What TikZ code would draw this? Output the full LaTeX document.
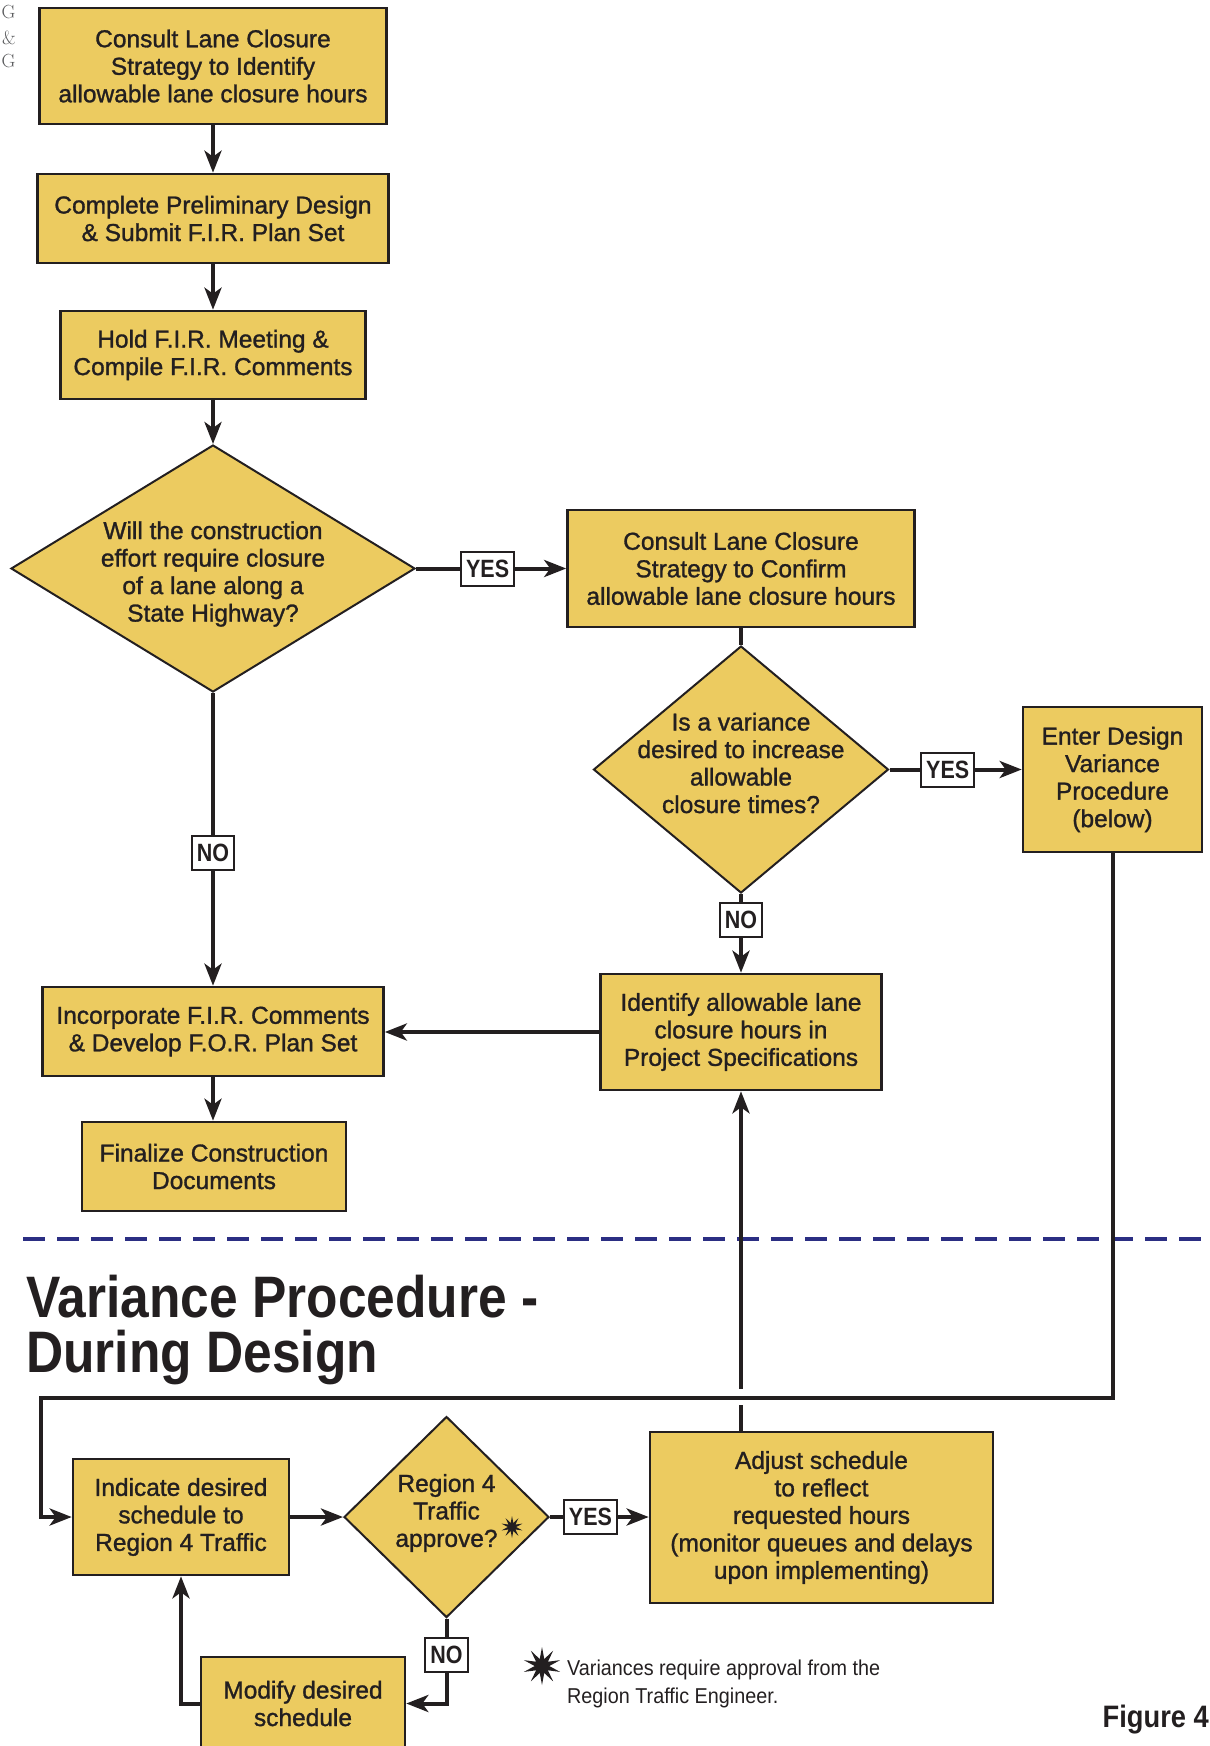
\documentclass[tikz,border=0pt]{standalone}
\usepackage{fontspec}
\usetikzlibrary{arrows.meta,shapes.geometric,calc}
\newfontfamily\lsans{Liberation Sans}[FakeBold=1.2]
\newfontfamily\lsanscond{Liberation Sans}[FakeStretch=0.86]
\newfontfamily\lsanstitle{Liberation Sans}[FakeStretch=0.88]
\newfontfamily\lsansnote{Liberation Sans}[FakeStretch=0.92]
\definecolor{boxyellow}{HTML}{ECCB60}
\definecolor{ink}{HTML}{231F20}
\definecolor{dashblue}{HTML}{2B2E83}
\definecolor{markgray}{HTML}{58595B}

\tikzset{
  stepbox/.style={rectangle, draw=ink, line width=2.6pt, fill=boxyellow, inner sep=0pt,
    align=center, text=ink, font=\lsans\fontsize{24.5}{27.5}\selectfont},
  decision/.style={diamond, draw=ink, line width=2pt, fill=boxyellow, inner sep=0pt},
  dtext/.style={align=center, text=ink, inner sep=0pt, font=\lsans\fontsize{24.5}{27.5}\selectfont},
  answer/.style={rectangle, draw=ink, line width=2pt, fill=white, text=ink,
    font=\lsanscond\bfseries\fontsize{25}{25}\selectfont, inner xsep=5pt, inner ysep=0pt,
    minimum height=34pt},
  conn/.style={draw=ink, line width=4pt},
  flow/.style={conn, -{Stealth[length=22pt,width=17pt,inset=6pt]}},
  burst/.style={star, star points=10, star point ratio=2.6, fill=ink, inner sep=0pt},
  margintag/.style={text=markgray, inner sep=0pt, font=\fontsize{19}{19}\selectfont},
}

\begin{document}
\begin{tikzpicture}[x=1pt,y=-1pt]
\useasboundingbox (0,0) rectangle (1210,1746);

% margin mark
\node[margintag] (mk1) at (8.5,12) {G};
\node[margintag] (mk2) at (9,38) {\&};
\node[margintag] (mk3) at (8.5,61) {G};

% main design flow
\node[stepbox, minimum width=347pt, minimum height=116pt] (b1) at (213,66)
  {Consult Lane Closure\\Strategy to Identify\\allowable lane closure hours};
\node[stepbox, minimum width=351pt, minimum height=89pt] (b2) at (213,218.5)
  {Complete Preliminary Design\\\& Submit F.I.R. Plan Set};
\node[stepbox, minimum width=305pt, minimum height=88pt] (b3) at (213,355)
  {Hold F.I.R. Meeting \&\\Compile F.I.R. Comments};
\node[decision, minimum width=404pt, minimum height=247pt] (d1) at (213,568.5) {};
\node[dtext] (d1t) at (213,574)
  {Will the construction\\effort require closure\\of a lane along a\\State Highway?};
\node[stepbox, minimum width=347pt, minimum height=117pt] (b4) at (741,568.5)
  {Consult Lane Closure\\Strategy to Confirm\\allowable lane closure hours};
\node[decision, minimum width=295pt, minimum height=247pt] (d2) at (741,769.5) {};
\node[dtext] (d2t) at (741,763)
  {Is a variance\\desired to increase\\allowable\\closure times?};
\node[stepbox, minimum width=179pt, minimum height=145pt] (b5) at (1112.5,779.5)
  {Enter Design\\Variance\\Procedure\\(below)};
\node[stepbox, minimum width=281pt, minimum height=116pt] (b6) at (741,1032)
  {Identify allowable lane\\closure hours in\\Project Specifications};
\node[stepbox, minimum width=341pt, minimum height=89pt] (b7) at (213,1031.5)
  {Incorporate F.I.R. Comments\\\& Develop F.O.R. Plan Set};
\node[stepbox, minimum width=264pt, minimum height=89pt] (b8) at (214,1166.5)
  {Finalize Construction\\Documents};

\draw[flow] (b1) -- (b2);
\draw[flow] (b2) -- (b3);
\draw[flow] (b3) -- (d1);
\draw[flow] (d1.east) -- node[answer, pos=0.477] {YES} (b4.west);
\draw[conn] (b4.south) -- (d2.north);
\draw[flow] (d2.east) -- node[answer, pos=0.44] {YES} (d2.east -| b5.west);
\draw[flow] (d2.south) -- node[answer, pos=0.333] {NO} (b6.north);
\draw[flow] (d1.south) -- node[answer, pos=0.547] {NO} (b7.north);
\draw[flow] (b6.west) -- (b6.west -| b7.east);
\draw[flow] (b7.south) -- (b7.south |- b8.north);

% separator and heading of the variance procedure
\draw[dashblue, line width=4pt, dash pattern=on 22pt off 12pt] (23,1239) -- (1210,1239);
\node[anchor=base west, inner sep=0pt, text=ink,
  font=\lsanstitle\bfseries\fontsize{58.5}{60}\selectfont] (title1) at (26,1317) {Variance Procedure -};
\node[anchor=base west, inner sep=0pt, text=ink,
  font=\lsanstitle\bfseries\fontsize{58.5}{60}\selectfont] (title2) at (26,1372) {During Design};

% variance procedure
\node[stepbox, minimum width=216pt, minimum height=116pt] (bi) at (181,1517)
  {Indicate desired\\schedule to\\Region 4 Traffic};
\node[decision, minimum width=205pt, minimum height=201pt] (d3) at (446.5,1517) {};
\node[dtext] (d3t) at (446.5,1513) {Region 4\\Traffic\\approve?};
\node[burst, minimum size=22pt] (d3star) at (512,1527) {};
\node[stepbox, minimum width=343pt, minimum height=171pt] (ba) at (821.5,1517.5)
  {Adjust schedule\\to reflect\\requested hours\\(monitor queues and delays\\upon implementing)};
\node[stepbox, minimum width=204pt, minimum height=93pt] (bm) at (303,1703.5)
  {Modify desired\\schedule};

\coordinate (turnA) at (41,1398);
\coordinate (cross) at (b6.south |- turnA);

\draw[flow] (ba.north -| b6.south) -- (b6.south);
\fill[white] ($(cross)+(-6,-9)$) rectangle ($(cross)+(6,7)$);
\draw[flow] (b5.south) |- (turnA) |- (bi.west);
\draw[flow] (bi.east) -- (d3.west);
\draw[flow] (d3.east) -- node[answer, pos=0.41] {YES} (d3.east -| ba.west);
\draw[flow] (d3.south) -- node[answer, pos=0.43] {NO} (d3.south |- bm.east) -- (bm.east);
\draw[flow] (bm.west) -| (bi.south);

% footnote and figure number
\node[burst, minimum size=38pt] (nstar) at (542,1666) {};
\node[anchor=west, align=left, inner sep=0pt, text=ink,
  font=\lsansnote\fontsize{21.5}{28}\selectfont] (note) at (567,1684)
  {Variances require approval from the\\Region Traffic Engineer.};
\node[anchor=base east, inner sep=0pt, text=ink,
  font=\lsanstitle\bfseries\fontsize{31}{31}\selectfont] (fig) at (1209,1727) {Figure 4};
\end{tikzpicture}
\end{document}
